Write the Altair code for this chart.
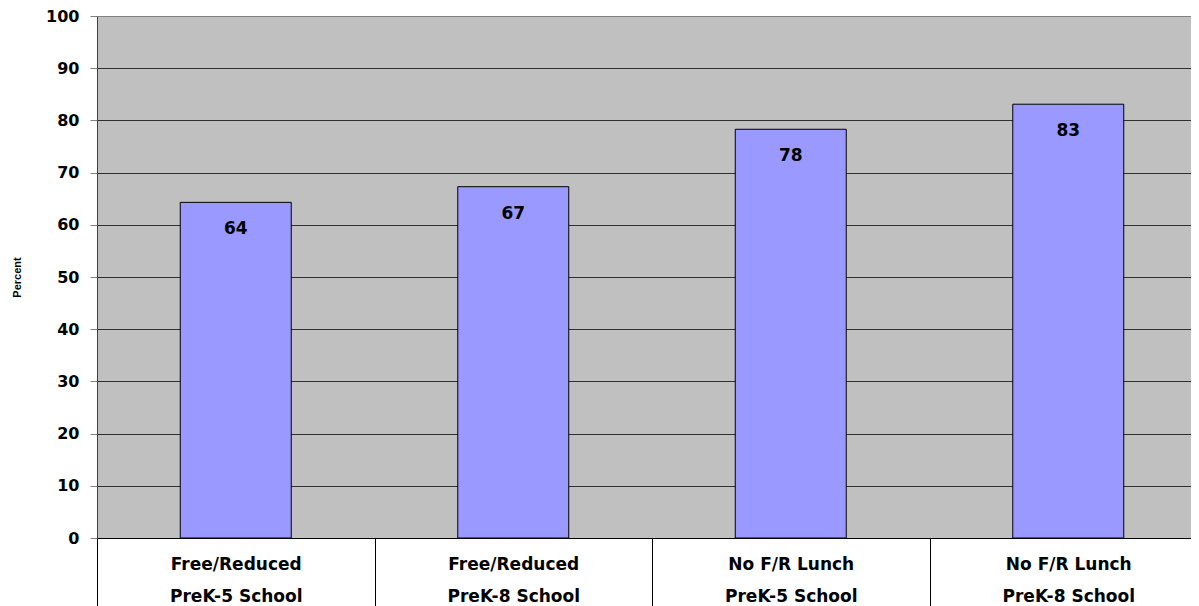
import altair as alt
import pandas as pd

categories = ["Free/Reduced|PreK-5 School", "Free/Reduced|PreK-8 School",
              "No F/R Lunch|PreK-5 School", "No F/R Lunch|PreK-8 School"]
values = [64.3, 67.3, 78.3, 83.1]
labels = ["64", "67", "78", "83"]
y_ticks = list(range(0, 101, 10))

df = pd.DataFrame({"cat": categories, "value": values, "label": labels})

FONT = "DejaVu Sans"
FS = 17

x_enc = alt.X(
    "cat:N", sort=categories,
    scale=alt.Scale(paddingInner=0, paddingOuter=0, range=[0, 1110]),
    axis=alt.Axis(
        title=None, labelAngle=0, labelExpr="split(datum.label, '|')",
        tickBand="extent", tickSize=70, tickColor="black", tickWidth=1,
        domainColor="black", labelFont=FONT, labelFontSize=FS,
        labelFontWeight="bold", labelColor="black", labelLineHeight=32,
        labelPadding=-52, labelBaseline="top",
    ),
)
y_enc = alt.Y(
    "value:Q",
    scale=alt.Scale(domain=[0, 100], nice=False),
    axis=alt.Axis(
        values=y_ticks, title="Percent", titleFont="Liberation Sans",
        titleFontSize=11, titleFontWeight="bold", titleColor="black",
        titlePadding=23, labelFont=FONT, labelFontSize=16, labelFontWeight="bold",
        labelColor="black", labelPadding=11, tickSize=7, tickColor="#808080",
        domainColor="#404040", grid=True,
        gridColor=alt.condition("datum.value == 100", alt.value("#808080"), alt.value("#303030")),
        gridWidth=1,
    ),
)

bars = alt.Chart(df).mark_bar(
    color="#9999FF", stroke="black", strokeWidth=1,
    width=alt.RelativeBandSize(0.4),
).encode(x=x_enc, y=y_enc)
text = alt.Chart(df).mark_text(
    font=FONT, fontSize=FS, fontWeight="bold", color="black",
    baseline="middle", dy=27
).encode(x=alt.X("cat:N", sort=categories), y="value:Q", text="label:N")

chart = (bars + text).properties(
    width=1094, height=522,
    autosize=alt.AutoSizeParams(type="none"),
    padding={"left": 89, "top": 8, "right": 0, "bottom": 68},
    background="white",
).configure_view(fill="#C0C0C0", strokeOpacity=0)

chart.save("out.html", embed_options={"renderer": "svg", "actions": False})
